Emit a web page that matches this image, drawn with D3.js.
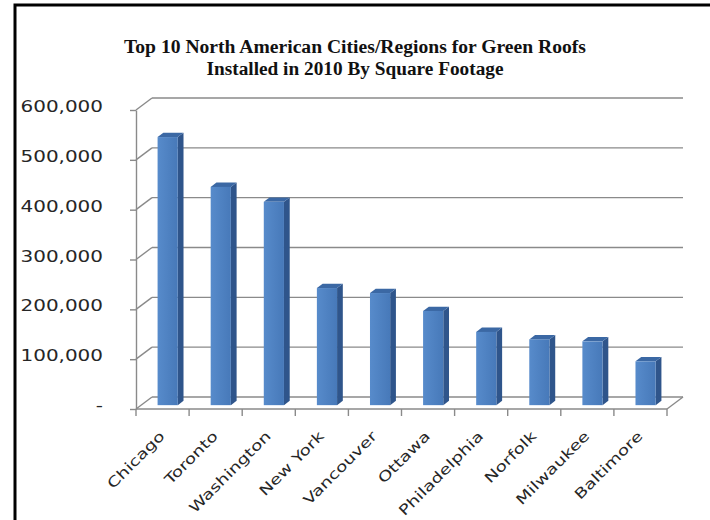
<!DOCTYPE html>
<html><head><meta charset="utf-8">
<script src="https://cdn.jsdelivr.net/npm/d3@7"></script>
<style>body{margin:0;background:#fff}</style>
</head><body>
<svg id="chart" width="710" height="520"></svg>
<script>
const categories = ["Chicago","Toronto","Washington","New York","Vancouver","Ottawa","Philadelphia","Norfolk","Milwaukee","Baltimore"];
const values = [538000,438000,408000,235000,225000,189000,147000,132000,128000,88000];
const yTickValues = [0,100000,200000,300000,400000,500000,600000];
const yTickLabels = ["-","100,000","200,000","300,000","400,000","500,000","600,000"];
const titleLines = ["Top 10 North American Cities/Regions for Green Roofs","Installed in 2010 By Square Footage"];

const W = 710, H = 520;
const svg = d3.select("#chart");
svg.append("rect").attr("width", W).attr("height", H).attr("fill", "#fff");
svg.append("rect").attr("x", 15).attr("y", 5).attr("width", W + 40).attr("height", H + 40)
  .attr("fill", "none").attr("stroke", "#000").attr("stroke-width", 3);

// title
const titleW = [462, 297];
svg.selectAll("text.title").data(titleLines).join("text").attr("class", "title")
  .attr("x", 355).attr("y", (d, i) => 53 + i * 22)
  .attr("text-anchor", "middle")
  .attr("font-family", "'Liberation Serif','Times New Roman',serif")
  .attr("font-weight", "bold").attr("font-size", 18.5).attr("fill", "#111")
  .attr("textLength", (d, i) => titleW[i]).attr("lengthAdjust", "spacingAndGlyphs")
  .text(d => d);

const DX = 16, DY = -12;
const X0 = 136, X1 = 667;
const x = d3.scaleBand().domain(categories).range([X0, X1]).paddingInner(0.62).paddingOuter(0.31);
const y = d3.scaleLinear().domain([0, 600000]).range([409, 110]);
const gridColor = "#8a8a8a";

// back wall gridlines
const g = svg.append("g");
g.selectAll("line.grid").data(yTickValues).join("line").attr("class", "grid")
  .attr("x1", X0 + DX).attr("x2", X1 + DX)
  .attr("y1", d => y(d) + DY).attr("y2", d => y(d) + DY)
  .attr("stroke", gridColor).attr("stroke-width", 1.4);
// side wall diagonals
g.selectAll("line.diag").data(yTickValues).join("line").attr("class", "diag")
  .attr("x1", X0).attr("x2", X0 + DX)
  .attr("y1", d => y(d)).attr("y2", d => y(d) + DY)
  .attr("stroke", gridColor).attr("stroke-width", 1.4);
// floor right edge
g.append("line").attr("x1", X1).attr("y1", y(0)).attr("x2", X1 + DX).attr("y2", y(0) + DY)
  .attr("stroke", gridColor).attr("stroke-width", 1.4);

// bars
const defs = svg.append("defs");
const grad = defs.append("linearGradient").attr("id", "front").attr("x1", 0).attr("x2", 1).attr("y1", 0).attr("y2", 0);
grad.append("stop").attr("offset", 0).attr("stop-color", "#578bcb");
grad.append("stop").attr("offset", 1).attr("stop-color", "#4779b9");

const f0 = 0.32, f1 = 0.68;
const bw = x.bandwidth();
const ddx = DX * (f1 - f0), ddy = DY * (f1 - f0);
const data = categories.map((c, i) => ({c, v: values[i]}));
const bars = svg.append("g").selectAll("g").data(data).join("g");
bars.append("polygon").attr("fill", "#2f558b").attr("points", d => {
  const xr = x(d.c) + DX * f0 + bw, yt = y(d.v) + DY * f0, yb = y(0) + DY * f0;
  return [[xr, yt], [xr + ddx, yt + ddy], [xr + ddx, yb + ddy], [xr, yb]].map(p => p.join(",")).join(" ");
});
bars.append("polygon").attr("fill", "#3b68a4").attr("points", d => {
  const xl = x(d.c) + DX * f0, xr = xl + bw, yt = y(d.v) + DY * f0;
  return [[xl, yt], [xr, yt], [xr + ddx, yt + ddy], [xl + ddx, yt + ddy]].map(p => p.join(",")).join(" ");
});
bars.append("rect").attr("fill", "url(#front)")
  .attr("x", d => x(d.c) + DX * f0).attr("width", bw)
  .attr("y", d => y(d.v) + DY * f0).attr("height", d => y(0) - y(d.v));

// y axis
const yAxis = d3.axisLeft(y).tickValues(yTickValues).tickSize(6).tickSizeOuter(0)
  .tickFormat((d, i) => yTickLabels[i]);
const ya = svg.append("g").attr("transform", `translate(${X0},0)`).call(yAxis);
ya.select(".domain").attr("stroke", gridColor).attr("stroke-width", 1.4);
ya.selectAll(".tick line").attr("stroke", gridColor).attr("stroke-width", 1.4);
ya.selectAll(".tick text").attr("x", -33).attr("dy", "0.1em")
  .attr("font-family", "'DejaVu Sans',Verdana,sans-serif").attr("font-size", 15).attr("fill", "#262626")
  .each(function() {
    const n = this.getComputedTextLength();
    d3.select(this).attr("textLength", n * 1.33).attr("lengthAdjust", "spacingAndGlyphs");
  });

// x axis (front floor line with ticks at category boundaries)
const xa = svg.append("g");
xa.append("line").attr("x1", X0).attr("x2", X1).attr("y1", y(0)).attr("y2", y(0))
  .attr("stroke", gridColor).attr("stroke-width", 1.4);
const step = x.step();
const bounds = categories.map(c => x(c) - (step - bw) / 2).concat([X1]);
xa.selectAll("line.xt").data(bounds).join("line").attr("class", "xt")
  .attr("x1", d => d).attr("x2", d => d).attr("y1", y(0)).attr("y2", y(0) + 7)
  .attr("stroke", gridColor).attr("stroke-width", 1.4);
xa.selectAll("text").data(categories).join("text")
  .attr("transform", d => `translate(${x(d) + bw / 2 + 3},437) rotate(-45)`)
  .attr("text-anchor", "end")
  .attr("font-family", "'DejaVu Sans',Verdana,sans-serif").attr("font-size", 14).attr("fill", "#262626")
  .text(d => d)
  .each(function() {
    const n = this.getComputedTextLength();
    d3.select(this).attr("textLength", n * 1.32).attr("lengthAdjust", "spacingAndGlyphs");
  });
</script>
</body></html>
